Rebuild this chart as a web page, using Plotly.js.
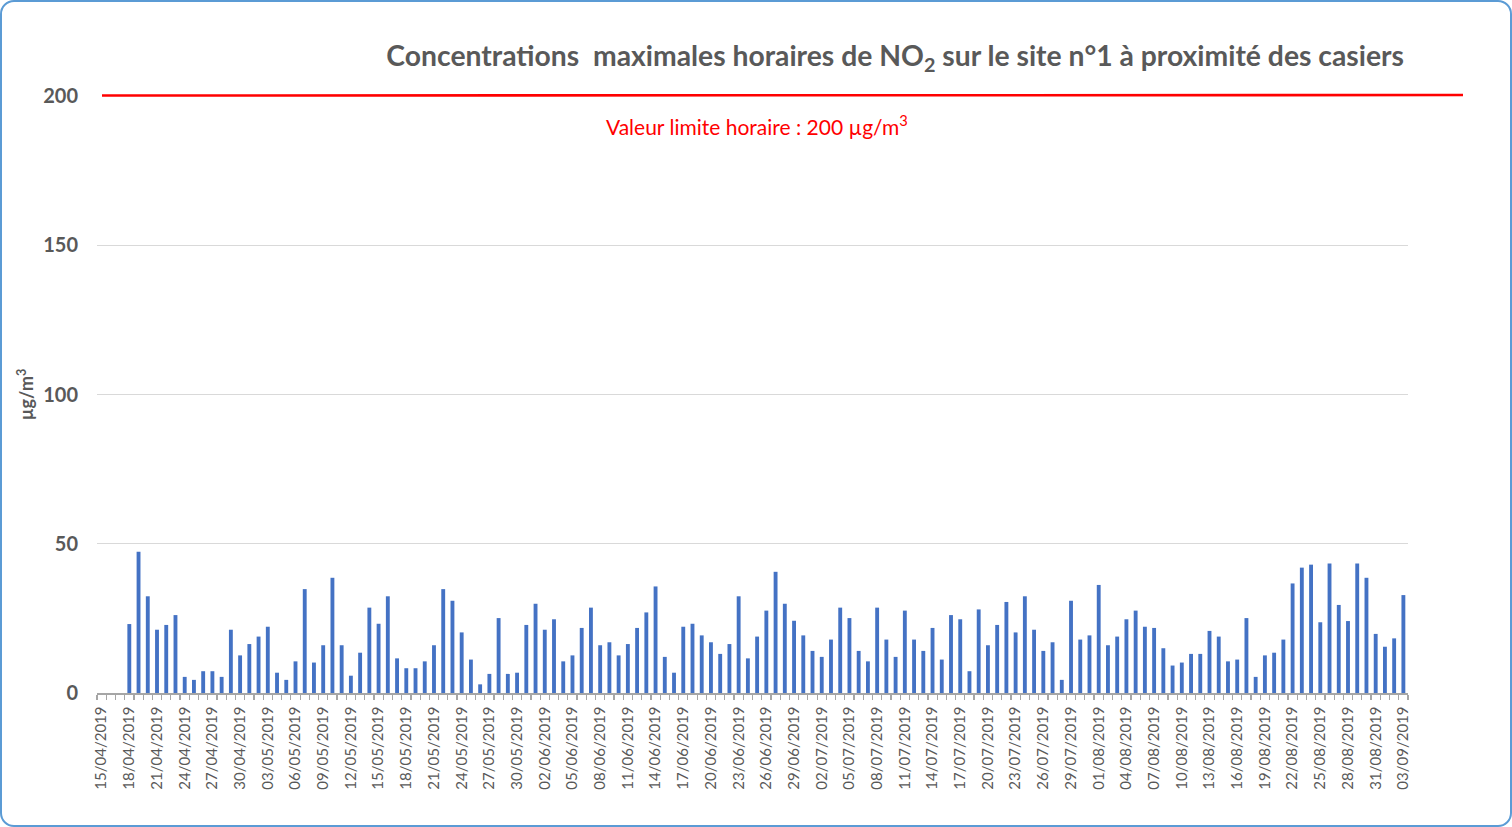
<!DOCTYPE html>
<html>
<head>
<meta charset="utf-8">
<script src="https://cdn.plot.ly/plotly-3.0.1.min.js"></script>
<style>
  html, body { margin: 0; padding: 0; background: #ffffff; }
  #frame { position: absolute; left: 0; top: 0; width: 1508px; height: 823px;
           border: 2px solid #5B9BD5; border-radius: 14px; overflow: hidden; background: #fff; }
  #chart { position: absolute; left: -2px; top: -2px; width: 1512px; height: 827px; }
</style>
</head>
<body>
<div id="frame"><div id="chart"></div></div>
<script>
// Daily maximum hourly NO2 concentrations (µg/m³), first measured day 18/04/2019
const firstDay = [2019, 3, 18];
const no2April = [23.1, 47.3, 32.4, 21.2, 22.8, 26.1, 5.4, 4.4, 7.3, 7.3, 5.4, 21.2, 12.6];
const no2May = [16.4, 18.9, 22.2, 6.8, 4.4, 10.6, 34.8, 10.2, 16.0, 38.6,
                16.0, 5.8, 13.5, 28.6, 23.2, 32.4, 11.6, 8.3, 8.3, 10.6,
                16.0, 34.8, 30.9, 20.3, 11.2, 2.9, 6.4, 25.1, 6.4, 6.8, 22.8];
const no2June = [29.9, 21.2, 24.7, 10.6, 12.6, 21.8, 28.6, 16.0, 17.0, 12.6,
                 16.4, 21.8, 27.0, 35.7, 12.1, 6.8, 22.2, 23.2, 19.3, 17.0,
                 13.1, 16.4, 32.4, 11.6, 18.9, 27.6, 40.6, 29.9, 24.2, 19.3];
const no2July = [14.1, 12.1, 17.9, 28.6, 25.1, 14.1, 10.6, 28.6, 17.9, 12.1,
                 27.6, 17.9, 14.1, 21.8, 11.2, 26.1, 24.7, 7.3, 28.0, 16.0,
                 22.8, 30.5, 20.3, 32.4, 21.2, 14.1, 17.0, 4.4, 30.9, 17.9, 19.3];
const no2August = [36.2, 16.0, 18.9, 24.7, 27.6, 22.2, 21.8, 15.0, 9.2, 10.2,
                   13.1, 13.1, 20.8, 18.9, 10.6, 11.2, 25.1, 5.4, 12.6, 13.5,
                   17.9, 36.7, 42.0, 43.0, 23.7, 43.4, 29.5, 24.1, 43.4, 38.6, 19.8];
const no2September = [15.5, 18.3, 32.8];
const limitValue = 200;
const yMax = 200;
const yTicks = [0, 50, 100, 150, 200];
const axisStart = '2019-04-15';
const axisEnd = '2019-09-03';

const values = [].concat(no2April, no2May, no2June, no2July, no2August, no2September);
const pad = n => (n < 10 ? '0' : '') + n;
const dates = values.map((v, i) => {
  const d = new Date(Date.UTC(firstDay[0], firstDay[1], firstDay[2] + i));
  return d.getUTCFullYear() + '-' + pad(d.getUTCMonth() + 1) + '-' + pad(d.getUTCDate());
});

const DAY = 86400000;
const startMs = Date.parse(axisStart + 'T00:00:00Z');
const endMs = Date.parse(axisEnd + 'T00:00:00Z');
const iso = ms => new Date(ms).toISOString().replace('T', ' ').replace('Z', '');

const FONT = 'Lato, "Open Sans", Arial, sans-serif';
const GREY = '#595959';

const trace = {
  type: 'bar',
  x: dates,
  y: values,
  width: 0.42 * DAY,
  marker: { color: '#4472C4', line: { width: 0 } },
  hoverinfo: 'x+y'
};

const layout = {
  width: 1512, height: 827,
  margin: { l: 97, r: 104, t: 96, b: 134 },
  paper_bgcolor: 'rgba(0,0,0,0)', plot_bgcolor: 'rgba(0,0,0,0)',
  showlegend: false,
  font: { family: FONT, color: GREY },
  title: {
    text: 'Concentrations  maximales horaires de NO<sub>2</sub> sur le site n°1 à proximité des casiers',
    font: { family: FONT, size: 28.3, color: GREY, weight: 'bold' },
    xref: 'paper', x: (1404 - 97) / 1311, xanchor: 'right',
    yref: 'container', y: 1 - 56 / 827, yanchor: 'middle'
  },
  xaxis: {
    type: 'date',
    range: [iso(startMs - DAY / 2), iso(endMs + DAY / 2)],
    tick0: axisStart, dtick: 3 * DAY,
    tickformat: '%d/%m/%Y', tickangle: -90,
    ticks: '', ticklabelstandoff: 6,
    tickfont: { family: FONT, size: 15, color: GREY },
    showgrid: false, zeroline: false,
    showline: true, linecolor: '#A6A6A6', linewidth: 1.5,
    minor: { tick0: iso(startMs - DAY / 2), dtick: DAY, ticks: 'outside', ticklen: 5, tickcolor: '#A6A6A6', tickwidth: 1.2, showgrid: false },
    fixedrange: true
  },
  yaxis: {
    range: [0, yMax],
    tickvals: yTicks, ticktext: yTicks.map(String),
    tickfont: { family: FONT, size: 20, color: GREY, weight: 'bold' },
    ticks: '', ticklabelstandoff: 18,
    showgrid: true, gridcolor: '#D9D9D9', gridwidth: 1,
    zeroline: false, showline: false,
    title: { text: 'µg/m<sup>3</sup>', font: { family: FONT, size: 18, color: GREY, weight: 'bold' }, standoff: 4 },
    fixedrange: true
  },
  shapes: [{
    // limit line: placed in paper units (limitValue / yMax) so it is not clipped at the plot top
    type: 'line', xref: 'paper', yref: 'paper',
    x0: (102 - 97) / 1311, x1: (1463 - 97) / 1311,
    y0: limitValue / yMax + 0.0008, y1: limitValue / yMax + 0.0016,
    line: { color: '#FF0000', width: 2.6 }, layer: 'above'
  }],
  annotations: [{
    text: 'Valeur limite horaire : ' + limitValue + ' µg/m<sup>3</sup>',
    xref: 'paper', yref: 'paper', x: (757 - 97) / 1311, y: (693 - 125) / 597,
    xanchor: 'center', yanchor: 'middle', showarrow: false,
    font: { family: FONT, size: 21, color: '#FF0000' }
  }]
};

Plotly.newPlot('chart', [trace], layout, { displayModeBar: false, staticPlot: true });
</script>
</body>
</html>
